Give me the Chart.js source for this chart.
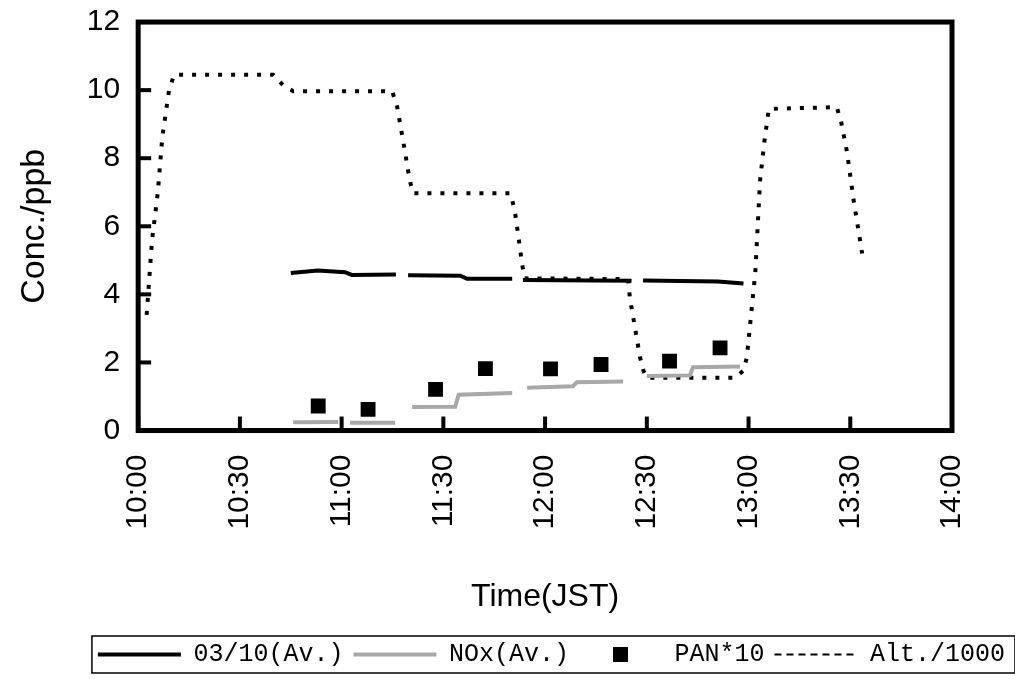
<!DOCTYPE html>
<html>
<head>
<meta charset="utf-8">
<script src="https://cdn.jsdelivr.net/npm/chart.js@4.4.0/dist/chart.umd.min.js"></script>
<style>
  html, body { margin: 0; padding: 0; background: #fff; }
  #wrap { width: 1015px; height: 679px; }
</style>
</head>
<body>
<div id="wrap"><canvas id="chart"></canvas></div>
<script>
// x values are minutes after 10:00
const timeTicks = [0, 30, 60, 90, 120, 150, 180, 210, 240];
const timeLabels = ["10:00", "10:30", "11:00", "11:30", "12:00", "12:30", "13:00", "13:30", "14:00"];
const concTicks = [0, 2, 4, 6, 8, 10, 12];

const seriesNames = ["03/10(Av.)", "NOx(Av.)", "PAN*10", "Alt./1000"];

// O3/10 averages (null = gap between averaging periods)
const o3Times  = [45, 53, 61, 63, 76, 78, 79.6, 95, 97, 110.3, 112, 113.5, 145.5, 147, 148.9, 171, 178.5];
const o3Values = [4.63, 4.7, 4.65, 4.57, 4.58, null, 4.56, 4.55, 4.46, 4.46, null, 4.42, 4.4, null, 4.41, 4.38, 4.32];

// NOx averages
const noxTimes  = [45.7, 59, 61, 62.5, 75.8, 78, 80.8, 93.5, 94.5, 110.3, 112, 114.7, 128.2, 129.4, 143, 146, 150, 162.7, 163.6, 177.5];
const noxValues = [0.24, 0.25, null, 0.23, 0.23, null, 0.69, 0.7, 1.05, 1.1, null, 1.26, 1.3, 1.42, 1.44, null, 1.6, 1.62, 1.86, 1.88];

// PAN x 10
const panTimes  = [53.1, 67.8, 87.7, 102.4, 121.6, 136.5, 156.7, 171.6];
const panValues = [0.72, 0.62, 1.21, 1.82, 1.81, 1.94, 2.04, 2.43];

// altitude / 1000
const altTimes  = [2.5, 4.1, 5.8, 7.1, 9.1, 10.6, 39.8, 42.7, 45.7, 74.9, 76.4, 78.5, 80, 81, 109.7, 111, 112, 113.2, 114, 144.5, 145, 146.5, 148, 149, 150, 176, 178.5, 179.5, 182, 183.4, 184.8, 186, 206, 207.2, 209, 211, 213.5];
const altValues = [3.4, 5.6, 7.0, 8.6, 10.0, 10.45, 10.45, 10.15, 9.97, 9.97, 9.5, 8.3, 7.4, 6.97, 6.97, 6.5, 5.8, 4.9, 4.47, 4.45, 3.9, 3.03, 2.15, 1.76, 1.55, 1.55, 1.76, 2.15, 4.65, 7.35, 8.6, 9.45, 9.5, 9.12, 8.2, 6.76, 5.2];

const toPoints = (xs, ys) => xs.map((x, i) => ({ x: x, y: ys[i] }));

// little black square for the PAN legend entry
const panSwatch = document.createElement("canvas");
panSwatch.width = 15;
panSwatch.height = 15;
panSwatch.getContext("2d").fillRect(0, 0, 15, 15);

const framePlugin = {
  id: "frame",
  afterDatasetsDraw(chart) {
    const { ctx, chartArea: a, scales } = chart;
    ctx.save();
    ctx.strokeStyle = "#000";
    ctx.lineWidth = 4;
    // inward tick marks
    timeTicks.forEach(t => {
      const px = scales.x.getPixelForValue(t);
      ctx.beginPath();
      ctx.moveTo(px, a.bottom);
      ctx.lineTo(px, a.bottom - 14);
      ctx.stroke();
    });
    concTicks.forEach(v => {
      const py = scales.y.getPixelForValue(v);
      ctx.beginPath();
      ctx.moveTo(a.left, py);
      ctx.lineTo(a.left + 13, py);
      ctx.stroke();
    });
    ctx.lineWidth = 5;
    ctx.strokeRect(a.left, a.top, a.right - a.left, a.bottom - a.top);
    ctx.restore();
  },
  afterDraw(chart) {
    // box round the legend
    const boxes = chart.legend.legendHitBoxes;
    if (!boxes || !boxes.length) return;
    const left = Math.min(...boxes.map(b => b.left)) - 6;
    const right = Math.max(...boxes.map(b => b.left + b.width)) + 10;
    const top = Math.min(...boxes.map(b => b.top)) - 6;
    const bottom = Math.max(...boxes.map(b => b.top + b.height)) + 6;
    const ctx = chart.ctx;
    ctx.save();
    ctx.strokeStyle = "#000";
    ctx.lineWidth = 1.5;
    ctx.strokeRect(left, top, right - left, bottom - top);
    ctx.restore();
  }
};

const ctx = document.getElementById("chart").getContext("2d");

new Chart(ctx, {
  type: "line",
  data: {
    datasets: [
      {
        label: seriesNames[0],
        data: toPoints(o3Times, o3Values),
        borderColor: "#000",
        borderWidth: 4,
        pointRadius: 0,
        spanGaps: false
      },
      {
        label: seriesNames[1],
        data: toPoints(noxTimes, noxValues),
        borderColor: "#a8a8a8",
        borderWidth: 4,
        pointRadius: 0,
        spanGaps: false
      },
      {
        label: seriesNames[2],
        data: toPoints(panTimes, panValues),
        showLine: false,
        pointStyle: "rect",
        pointRadius: 10.5,
        pointBorderWidth: 0,
        backgroundColor: "#000",
        borderColor: "#000"
      },
      {
        label: seriesNames[3],
        data: toPoints(altTimes, altValues),
        borderColor: "#000",
        borderWidth: 4,
        borderDash: [4, 9],
        pointRadius: 0
      }
    ]
  },
  options: {
    responsive: true,
    maintainAspectRatio: false,
    animation: false,
    layout: { padding: { top: 0, left: 4, bottom: 2, right: 0 } },
    scales: {
      x: {
        type: "linear",
        min: 0,
        max: 240,
        afterBuildTicks: s => { s.ticks = timeTicks.map(v => ({ value: v })); },
        grid: { display: false, drawTicks: false },
        border: { display: false },
        ticks: {
          color: "#000",
          font: { family: "'Liberation Sans', Arial, sans-serif", size: 30 },
          maxRotation: 90,
          minRotation: 90,
          padding: 24,
          callback: v => timeLabels[timeTicks.indexOf(v)]
        },
        title: {
          display: true,
          text: "Time(JST)",
          color: "#000",
          font: { family: "'Liberation Sans', Arial, sans-serif", size: 32 },
          padding: { top: 24, bottom: 16 }
        }
      },
      y: {
        min: 0,
        max: 12,
        afterBuildTicks: s => { s.ticks = concTicks.map(v => ({ value: v })); },
        grid: { display: false, drawTicks: false },
        border: { display: false },
        ticks: {
          color: "#000",
          font: { family: "'Liberation Sans', Arial, sans-serif", size: 30, lineHeight: 0.27 },
          padding: 18
        },
        title: {
          display: true,
          text: "Conc./ppb",
          color: "#000",
          font: { family: "'Liberation Sans', Arial, sans-serif", size: 34 },
          padding: { top: 10, bottom: 14 }
        }
      },
      yRight: {
        position: "right",
        display: true,
        grid: { display: false, drawTicks: false },
        border: { display: false },
        ticks: { display: false },
        afterFit: s => { s.width = 63; }
      }
    },
    plugins: {
      tooltip: { enabled: false },
      legend: {
        position: "bottom",
        align: "end",
        labels: {
          color: "#000",
          font: { family: "'Liberation Mono', 'DejaVu Sans Mono', monospace", size: 25 },
          usePointStyle: true,
          pointStyleWidth: 83,
          padding: 10,
          generateLabels: chart => {
            const items = Chart.defaults.plugins.legend.labels.generateLabels(chart);
            items.forEach((it, i) => {
              it.pointStyle = i === 2 ? panSwatch : "line";
              if (i === 3) {
                it.lineDash = [7, 5];
                it.lineWidth = 2;
              }
            });
            return items;
          }
        }
      }
    }
  },
  plugins: [framePlugin]
});
</script>
</body>
</html>
